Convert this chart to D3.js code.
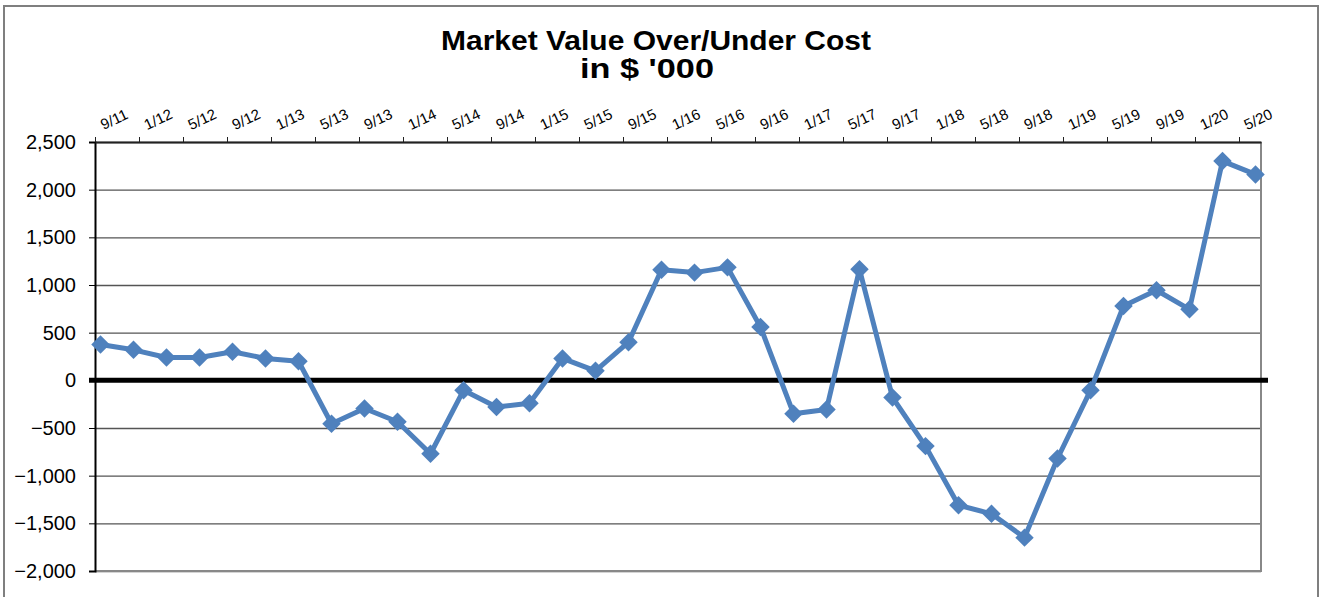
<!DOCTYPE html>
<html>
<head>
<meta charset="utf-8">
<script src="https://cdn.jsdelivr.net/npm/d3@7"></script>
<style>
body { margin: 0; background: #fff; }
text { font-family: "Liberation Sans", Arial, sans-serif; }
</style>
</head>
<body>
<div id="chart"></div>
<script>
// quarterly points, first one is 9/11
quarters = ["9/11","12/11","3/12","6/12","9/12","12/12","3/13","6/13","9/13","12/13","3/14","6/14",
            "9/14","12/14","3/15","6/15","9/15","12/15","3/16","6/16","9/16","12/16","3/17","6/17",
            "9/17","12/17","3/18","6/18","9/18","12/18","3/19","6/19","9/19","12/19","3/20","6/20"]
values = [375, 320, 240, 240, 300, 230, 200, -455, -295, -435, -770, -105,
          -280, -240, 230, 100, 400, 1160, 1130, 1185, 560, -350, -305, 1165,
          -180, -690, -1310, -1400, -1650, -820, -105, 780, 945, 745, 2300, 2160]
// axis labels every 4 months
xlabels = ["9/11","1/12","5/12","9/12","1/13","5/13","9/13","1/14","5/14","9/14","1/15","5/15","9/15",
           "1/16","5/16","9/16","1/17","5/17","9/17","1/18","5/18","9/18","1/19","5/19","9/19","1/20","5/20"]
yticks = [-2000, -1500, -1000, -500, 0, 500, 1000, 1500, 2000, 2500]

W = 1321
H = 597
pl = 95
pr = 1261
pt = 142
pb = 571
months = 106

var svg = d3.select("#chart").append("svg")
    .attr("width", W)
    .attr("height", H)

// chart frame
svg.append("rect")
    .attr("x", 4).attr("y", 6)
    .attr("width", 1314).attr("height", 600)
    .attr("fill", "none")
    .attr("stroke", "#7f7f7f")
    .attr("stroke-width", 2)

var x = d3.scaleLinear().domain([0, months]).range([pl, pr])
var y = d3.scaleLinear().domain([-2000, 2500]).range([pb, pt])

// title (excel draws it wide, so stretch it a bit)
svg.append("text").attr("x", 656).attr("y", 50)
    .attr("text-anchor", "middle")
    .attr("textLength", 430).attr("lengthAdjust", "spacingAndGlyphs")
    .style("font-size", "27px").style("font-weight", "bold")
    .text("Market Value Over/Under Cost")
svg.append("text").attr("x", 647).attr("y", 78)
    .attr("text-anchor", "middle")
    .attr("textLength", 134).attr("lengthAdjust", "spacingAndGlyphs")
    .style("font-size", "27px").style("font-weight", "bold")
    .text("in $ '000")

// gridlines
svg.append("g")
    .attr("transform", "translate(" + pl + ",0)")
    .call(d3.axisLeft(y).tickValues(yticks).tickSize(-(pr - pl)).tickFormat(""))
    .call(g => g.select(".domain").remove())
    .call(g => g.selectAll("line").attr("stroke", "#555").attr("stroke-width", 1.3))

// plot area right + bottom border
svg.append("line").attr("x1", pr).attr("x2", pr).attr("y1", pt).attr("y2", pb + 1)
    .attr("stroke", "#888").attr("stroke-width", 2)
svg.append("line").attr("x1", pl).attr("x2", pr).attr("y1", pb).attr("y2", pb)
    .attr("stroke", "#888").attr("stroke-width", 2)

// y axis
var yax = svg.append("g")
    .attr("transform", "translate(" + pl + ",0)")
    .call(d3.axisLeft(y).tickValues(yticks).tickSize(6).tickPadding(13).tickFormat(d3.format(",")))
yax.select(".domain").attr("stroke", "#000").attr("stroke-width", 2)
yax.selectAll("line").attr("stroke", "#000")
yax.selectAll("text").style("font-size", "20px").attr("fill", "#000")

// x axis along the top, labels sit between the ticks
tickMonths = xlabels.map(function(d, i){ return i * 4 })
var xax = svg.append("g")
    .attr("transform", "translate(0," + pt + ")")
    .call(d3.axisTop(x).tickValues(tickMonths).tickSize(5).tickSizeOuter(0).tickFormat(""))
xax.select(".domain").attr("stroke", "#222").attr("stroke-width", 2)
xax.selectAll("line").attr("stroke", "#222")

svg.selectAll(".xlab").data(xlabels)
    .enter().append("text")
    .attr("class", "xlab")
    .attr("transform", function(d, i){
        var cx = x(i * 4 + 2) - 3
        return "translate(" + cx + ",119) rotate(-25)"
    })
    .attr("text-anchor", "middle")
    .attr("dominant-baseline", "central")
    .style("font-size", "15px")
    .text(function(d){ return d })

// zero line
svg.append("line")
    .attr("x1", pl - 6).attr("x2", pr + 7)
    .attr("y1", y(0)).attr("y2", y(0))
    .attr("stroke", "#000").attr("stroke-width", 5)

// series
var pts = values.map(function(v, i){ return {q: quarters[i], m: i * 3 + 0.5, v: v} })

svg.append("path").datum(pts)
    .attr("fill", "none")
    .attr("stroke", "#4f81bd")
    .attr("stroke-width", 5)
    .attr("stroke-linejoin", "round")
    .attr("d", d3.line().x(function(d){ return x(d.m) }).y(function(d){ return y(d.v) }))

svg.selectAll(".marker").data(pts)
    .enter().append("path")
    .attr("class", "marker")
    .attr("d", d3.symbol().type(d3.symbolSquare).size(170))
    .attr("transform", function(d){ return "translate(" + x(d.m) + "," + y(d.v) + ") rotate(45)" })
    .attr("fill", "#4f81bd")
</script>
</body>
</html>
